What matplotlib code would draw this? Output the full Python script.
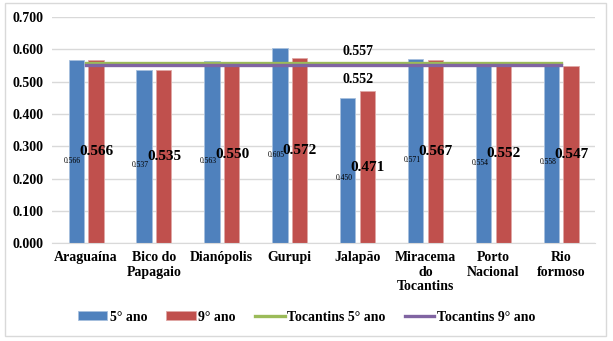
import matplotlib
matplotlib.use("Agg")
import matplotlib.pyplot as plt
import numpy as np
from matplotlib.patches import Rectangle

# dados
regioes = ["Araguaína", "Bico do\nPapagaio", "Dianópolis", "Gurupi", "Jalapão",
           "Miracema\ndo\nTocantins", "Porto\nNacional", "Rio\nformoso"]
ano5 = [0.566, 0.537, 0.563, 0.605, 0.450, 0.571, 0.554, 0.558]
ano9 = [0.566, 0.535, 0.550, 0.572, 0.471, 0.567, 0.552, 0.547]
toc5 = 0.557
toc9 = 0.552

plt.rcParams['font.family'] = ['Liberation Serif', 'DejaVu Serif']
plt.rcParams['font.weight'] = 'bold'

fig = plt.figure(figsize=(6.13, 3.41), dpi=100)
ax = fig.add_axes([0.085, 0.287, 0.886, 0.663])

x = np.arange(len(regioes))
w = 0.225
b1 = ax.bar(x - 0.145, ano5, w, color="#4F81BD", edgecolor="#A7C0DE", linewidth=0.6,
            label="5° ano", zorder=2)
b2 = ax.bar(x + 0.145, ano9, w, color="#C0504D", edgecolor="#E0A8A6", linewidth=0.6,
            label="9° ano", zorder=2)

l1, = ax.plot(x, [toc5] * len(x), color="#9BBB59", lw=2.4, label="Tocantins 5° ano", zorder=3)
l2, = ax.plot(x, [toc9] * len(x), color="#8064A2", lw=2.4, label="Tocantins 9° ano", zorder=3)

# rótulos esquisitos no meio das barras
for xi, v in zip(x, ano5):
    ax.text(xi - 0.2, v * 0.45, f"{v:.3f}", ha="center", va="center", fontsize=5.5,
            fontweight="normal", zorder=4)
for xi, v in zip(x, ano9):
    ax.text(xi + 0.15, v * 0.5, f"{v:.3f}", ha="center", va="center", fontsize=11,
            fontweight="bold", zorder=4)
ax.text(4, toc5 + 0.035, f"{toc5:.3f}", ha="center", va="center", fontsize=10, zorder=4)
ax.text(4, toc9 - 0.045, f"{toc9:.3f}", ha="center", va="center", fontsize=10, zorder=4)

ax.set_xlim(-0.5, len(x) - 0.5)
ax.set_ylim(0, 0.7)
ax.set_yticks(np.arange(0, 0.71, 0.1))
ax.set_yticklabels([f"{t:.3f}" for t in np.arange(0, 0.71, 0.1)], fontsize=10)
ax.set_xticks(x)
ax.set_xticklabels(regioes, fontsize=10, linespacing=1.15)
ax.tick_params(axis="both", length=0, pad=6)
ax.grid(axis="y", color="#D9D9D9", lw=1, zorder=0)
ax.set_axisbelow(True)
for s in ["top", "right", "left"]:
    ax.spines[s].set_visible(False)
ax.spines["bottom"].set_color("#D9D9D9")

fig.legend(handles=[b1, b2, l1, l2], loc="center", bbox_to_anchor=(0.5, 0.07), ncol=4,
           frameon=False, fontsize=10, handlelength=2.1, handleheight=0.6,
           columnspacing=1.4, handletextpad=0.2)

fig.patches.append(Rectangle((0.008, 0.015), 0.98, 0.975, transform=fig.transFigure,
                             fill=False, edgecolor="#D9D9D9", lw=1))

fig.savefig("out.png", dpi=100)
